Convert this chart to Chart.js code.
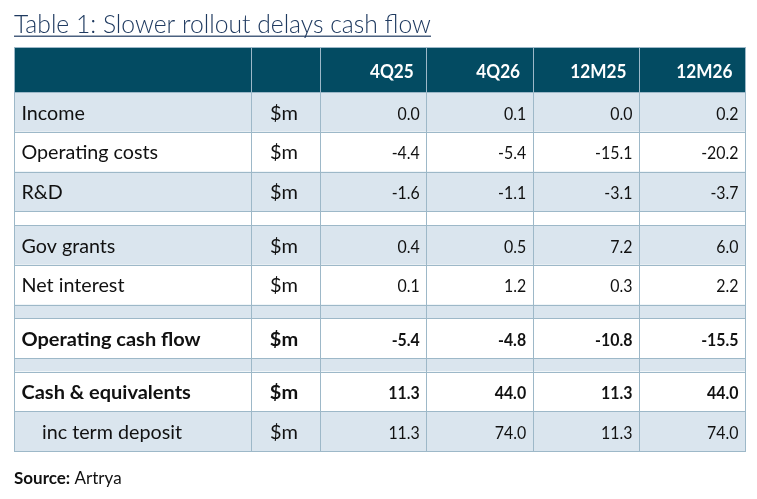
<!DOCTYPE html>
<html><head><meta charset="utf-8">
<script src="https://cdn.jsdelivr.net/npm/chart.js@4/dist/chart.umd.min.js"></script>
<style>html,body{margin:0;padding:0;background:#fff}#wrap{width:757px;height:499px;position:relative}</style>
</head><body><div id="wrap"><canvas id="c"></canvas></div>
<script>
const title = 'Table 1: Slower rollout delays cash flow';
const sourceLabel = 'Source:';
const sourceText = ' Artrya';
const columns = ['4Q25', '4Q26', '12M25', '12M26'];
const rowLabels = ['Income', 'Operating costs', 'R&D', '', 'Gov grants', 'Net interest', '', 'Operating cash flow', '', 'Cash & equivalents', 'inc term deposit'];
const units = ['$m', '$m', '$m', '', '$m', '$m', '', '$m', '', '$m', '$m'];
const v4Q25 = [0.0, -4.4, -1.6, null, 0.4, 0.1, null, -5.4, null, 11.3, 11.3];
const v4Q26 = [0.1, -5.4, -1.1, null, 0.5, 1.2, null, -4.8, null, 44.0, 74.0];
const v12M25 = [0.0, -15.1, -3.1, null, 7.2, 0.3, null, -10.8, null, 11.3, 11.3];
const v12M26 = [0.2, -20.2, -3.7, null, 6.0, 2.2, null, -15.5, null, 44.0, 74.0];
const boldRows = ['Operating cash flow', 'Cash & equivalents'];
const indentRows = ['inc term deposit'];

const valueCols = [v4Q25, v4Q26, v12M25, v12M26];

// layout (styles)
const L = {
  left: 14, top: 47,
  colW: [237, 69, 106.3, 106.3, 106.3, 106.1],
  headerH: 45, rowH: 39.8, spacerH: 13.6,
  header: '#034b62', light: '#dae5ee', grid: '#9db8c8',
  font: 'Lato', size: 18.5, numSize: 17.3
};

function drawText(ctx, text, x, y, align, sx) {
  ctx.save();
  ctx.translate(x, y);
  ctx.scale(sx, 1);
  ctx.textAlign = align;
  ctx.fillText(text, 0, 0);
  ctx.restore();
}

const tablePlugin = {
  id: 'tablePlugin',
  afterDraw(chart) {
    const ctx = chart.ctx, xs = chart.scales.x, ys = chart.scales.y;
    const px = v => xs.getPixelForValue(v), py = v => ys.getPixelForValue(v);
    const xe = [L.left];
    L.colW.forEach(w => xe.push(xe[xe.length - 1] + w));
    const ye = [L.top, L.top + L.headerH];
    rowLabels.forEach((r, i) => ye.push(ye[ye.length - 1] + (units[i] ? L.rowH : L.spacerH)));
    const X0 = px(xe[0]), X1 = px(xe[xe.length - 1]);
    ctx.save();
    ctx.textBaseline = 'alphabetic';
    // title
    ctx.fillStyle = '#1f3a60';
    ctx.font = '300 24.7px ' + L.font;
    ctx.textAlign = 'left';
    ctx.fillText(title, px(L.left), py(33.2));
    const tw = ctx.measureText(title).width;
    ctx.fillRect(px(L.left), py(35.6), tw, 1.2);
    // header
    ctx.fillStyle = L.header;
    ctx.fillRect(X0, py(ye[0]), X1 - X0, py(ye[1]) - py(ye[0]));
    // row shading
    rowLabels.forEach((r, i) => {
      ctx.fillStyle = i % 2 === 0 ? L.light : '#ffffff';
      ctx.fillRect(X0, py(ye[i + 1]), X1 - X0, py(ye[i + 2]) - py(ye[i + 1]));
    });
    // grid
    ctx.strokeStyle = L.grid; ctx.lineWidth = 1;
    ctx.beginPath();
    ye.forEach(y => { const yy = Math.round(py(y)) + 0.5; ctx.moveTo(X0, yy); ctx.lineTo(X1 + 1, yy); });
    xe.forEach(x => { const xx = Math.round(px(x)) + 0.5; ctx.moveTo(xx, py(ye[0])); ctx.lineTo(xx, py(ye[ye.length - 1])); });
    ctx.stroke();
    // header text
    ctx.fillStyle = '#ffffff';
    ctx.font = 'bold ' + L.size + 'px ' + L.font;
    columns.forEach((c, j) => drawText(ctx, c, px(xe[j + 3]) - 12.5, py(ye[0] + 31), 'right', 0.93));
    // body text
    rowLabels.forEach((r, i) => {
      if (!units[i]) return;
      const bold = boldRows.includes(r);
      const yb = py(ye[i + 1] + 27.6);
      ctx.fillStyle = '#111111';
      ctx.font = (bold ? 'bold ' : '') + L.size + 'px ' + L.font;
      drawText(ctx, r, px(xe[0]) + (indentRows.includes(r) ? 28 : 7.5), yb, 'left', bold ? 1.08 : 1.065);
      drawText(ctx, units[i], px((xe[1] + xe[2]) / 2) - 1.5, yb, 'center', 1.08);
      ctx.font = (bold ? 'bold ' : '') + L.numSize + 'px ' + L.font;
      valueCols.forEach((vals, j) => {
        const v = vals[i];
        if (v !== null) drawText(ctx, v.toFixed(1), px(xe[j + 3]) - 6.5, yb, 'right', 0.92);
      });
    });
    // source
    ctx.fillStyle = '#111111';
    ctx.textAlign = 'left';
    ctx.font = 'bold 17px ' + L.font;
    ctx.fillText(sourceLabel, px(L.left), py(484));
    const sw = ctx.measureText(sourceLabel).width;
    ctx.font = '17px ' + L.font;
    ctx.fillText(sourceText, px(L.left) + sw, py(484));
    ctx.restore();
  }
};

new Chart(document.getElementById('c'), {
  type: 'scatter',
  data: { datasets: [] },
  options: {
    responsive: true, maintainAspectRatio: false, animation: false,
    devicePixelRatio: 1,
    layout: { padding: 0 },
    plugins: { legend: { display: false }, tooltip: { enabled: false } },
    scales: {
      x: { type: 'linear', min: 0, max: 757, display: false },
      y: { type: 'linear', min: 0, max: 499, reverse: true, display: false }
    }
  },
  plugins: [tablePlugin]
});
</script>
</body></html>
